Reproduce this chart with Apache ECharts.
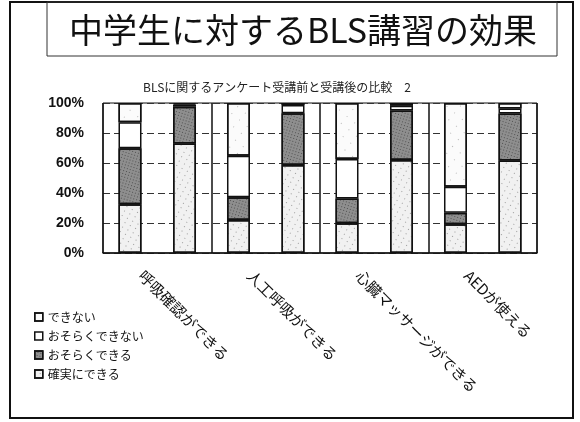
<!DOCTYPE html>
<html>
<head>
<meta charset="utf-8">
<script src="https://cdn.jsdelivr.net/npm/echarts@6/dist/echarts.min.js"></script>
<style>
  html, body { margin: 0; padding: 0; background: #ffffff; }
  #chart { width: 580px; height: 422px; }
</style>
</head>
<body>
<div id="chart"></div>
<script>
// Survey items (one pair of bars per item: before / after the course)
const categories = ['呼吸確認ができる', '人工呼吸ができる', '心臓マッサージができる', 'AEDが使える'];

// Answer groups, bottom of the stack first
const answerNames = ['確実にできる', 'おそらくできる', 'おそらくできない', 'できない'];
const legendOrder = ['できない', 'おそらくできない', 'おそらくできる', '確実にできる'];

// Shares (%) before the course
const beforeSure      = [32.5, 22.0, 19.8, 19.1];
const beforeProbably  = [37.3, 15.1, 16.6, 7.8];
const beforeProbNot   = [17.3, 27.8, 26.3, 17.3];
const beforeCannot    = [12.9, 35.1, 37.3, 55.8];

// Shares (%) after the course
const afterSure       = [73.0, 58.7, 62.0, 61.6];
const afterProbably   = [24.5, 34.5, 33.0, 31.4];
const afterProbNot    = [1.5, 5.5, 3.2, 3.3];
const afterCannot     = [1.0, 1.3, 1.8, 3.7];

const yTicks = [0, 20, 40, 60, 80, 100];

const beforeSets = [beforeSure, beforeProbably, beforeProbNot, beforeCannot];
const afterSets  = [afterSure, afterProbably, afterProbNot, afterCannot];

// Fill styles per answer group
const fills = [
  { color: '#f1f1f1', decal: { symbol: 'rect', symbolSize: 1, dashArrayX: [1, 5], dashArrayY: [1, 4], rotation: 0.5, color: 'rgba(90,90,90,0.55)' } },
  { color: '#8e8e8e', decal: { symbol: 'rect', symbolSize: 1, dashArrayX: [1, 2], dashArrayY: [1, 2], rotation: 0.3, color: 'rgba(40,40,40,0.6)' } },
  { color: '#ffffff', decal: null },
  { color: '#fbfbfb', decal: { symbol: 'rect', symbolSize: 1, dashArrayX: [1, 9], dashArrayY: [1, 8], rotation: 0.7, color: 'rgba(120,120,120,0.5)' } }
];

function makeSeries(sets, stackId) {
  return sets.map((vals, i) => {
    const itemStyle = {
      color: fills[i].color,
      borderColor: '#111111',
      borderWidth: 1.5
    };
    if (fills[i].decal) itemStyle.decal = fills[i].decal;
    return {
      name: answerNames[i],
      type: 'bar',
      stack: stackId,
      data: vals,
      barWidth: 23,
      barGap: '137%',
      itemStyle: itemStyle,
      emphasis: { disabled: true }
    };
  });
}

const plotLeft = 103, plotRight = 43, plotTop = 103, plotBottom = 169;
// Rotated item names sit a little left of each category centre
const labelShift = 16;

const chart = echarts.init(document.getElementById('chart'), null, { renderer: 'canvas' });

chart.setOption({
  animation: false,
  backgroundColor: '#ffffff',
  textStyle: { fontFamily: '"Noto Sans CJK JP", "Liberation Sans", sans-serif' },
  graphic: [
    { type: 'rect', shape: { x: 10, y: 2, width: 563, height: 416 },
      style: { fill: 'none', stroke: '#111', lineWidth: 2 } },
    { type: 'rect', shape: { x: 47, y: 2, width: 510, height: 54 },
      style: { fill: 'none', stroke: '#333', lineWidth: 1 } },
    { type: 'text', x: 303, y: 30,
      style: { text: '中学生に対するBLS講習の効果', fill: '#111', font: '34px "Noto Sans CJK JP"',
               textAlign: 'center', textVerticalAlign: 'middle' } },
    { type: 'text', x: 277, y: 87,
      style: { text: 'BLSに関するアンケート受講前と受講後の比較　2', fill: '#222', font: '12px "Noto Sans CJK JP"',
               textAlign: 'center', textVerticalAlign: 'middle' } }
  ],
  legend: {
    data: legendOrder,
    orient: 'vertical',
    left: 29,
    top: 306,
    icon: 'rect',
    itemWidth: 8,
    itemHeight: 8,
    itemGap: 7,
    selectedMode: false,
    itemStyle: { borderWidth: 1.5 },
    textStyle: { fontSize: 12, color: '#111', fontFamily: '"Noto Sans CJK JP"' }
  },
  grid: [
    { left: plotLeft, right: plotRight, top: plotTop, bottom: plotBottom,
      show: true, borderColor: '#111', borderWidth: 1, backgroundColor: 'transparent' },
    { left: plotLeft - labelShift, right: plotRight + labelShift, top: plotTop, bottom: plotBottom,
      show: false }
  ],
  xAxis: [
    {
      type: 'category',
      gridIndex: 0,
      data: categories,
      axisLine: { show: true, lineStyle: { color: '#111', width: 1.5 } },
      axisTick: { show: false },
      splitLine: { show: true, interval: 0, lineStyle: { color: '#111', width: 1.5 } },
      axisLabel: { show: false }
    },
    {
      type: 'category',
      gridIndex: 1,
      data: categories,
      axisLine: { show: false },
      axisTick: { show: false },
      splitLine: { show: false },
      axisLabel: {
        interval: 0,
        rotate: -45,
        margin: 20,
        fontSize: 15,
        color: '#111',
        fontFamily: '"Noto Sans CJK JP"'
      }
    }
  ],
  yAxis: [
    {
      type: 'value',
      gridIndex: 0,
      min: yTicks[0],
      max: yTicks[yTicks.length - 1],
      interval: 20,
      axisLine: { show: false },
      axisTick: { show: false },
      splitLine: { show: true, lineStyle: { color: '#333', width: 1, type: [7, 4] } },
      axisLabel: {
        formatter: '{value}%',
        margin: 19,
        fontSize: 14,
        fontWeight: 'bold',
        color: '#111',
        fontFamily: '"Liberation Sans", Arial, sans-serif'
      }
    },
    {
      type: 'value',
      gridIndex: 1,
      min: 0, max: 100,
      show: false
    }
  ],
  series: makeSeries(beforeSets, 'before').concat(makeSeries(afterSets, 'after'))
});
</script>
</body>
</html>
